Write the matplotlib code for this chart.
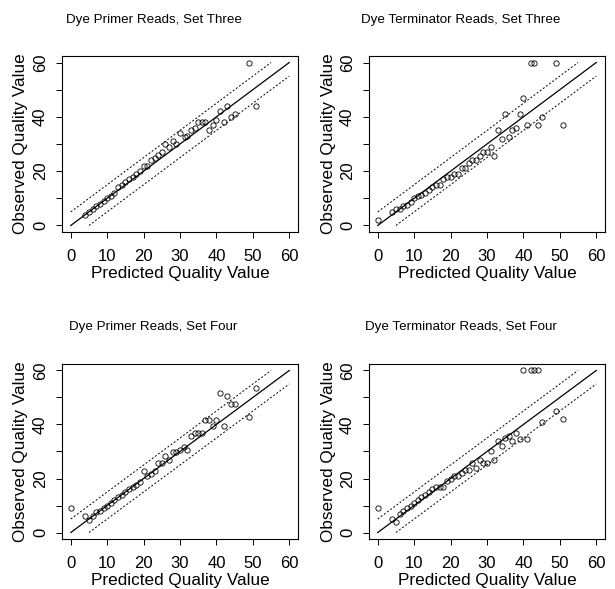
import numpy as np
import matplotlib.pyplot as plt

plt.rcParams['font.family'] = ['Liberation Sans', 'DejaVu Sans']

titles = ["Dye Primer Reads, Set Three", "Dye Terminator Reads, Set Three",
          "Dye Primer Reads, Set Four", "Dye Terminator Reads, Set Four"]

p3_x = [4, 5, 6, 7, 8, 9, 10, 11, 12, 13, 14, 15, 16, 17, 18, 19, 20, 21, 22, 23,
        24, 25, 26, 27, 28, 29, 30, 31.5, 32, 33, 34, 35, 36, 37, 38, 39, 40, 41,
        42, 43, 44, 45, 49, 51]
p3_y = [4, 5, 6, 7, 8, 9, 10, 11, 12, 14, 15, 16, 17, 18, 19, 20, 22, 22, 24, 25,
        26, 27, 30, 29, 31, 30, 34, 32.5, 33, 35, 36, 38, 38, 38, 35, 37, 39, 42,
        38, 44, 40, 41, 60, 44]

t3_x = [0, 4, 5, 6, 7, 8, 9, 10, 11, 12, 13, 14, 15, 16, 17, 18, 19, 20, 21, 22,
        23, 24, 25, 26, 27, 28, 29, 30, 31, 32, 33, 34, 35, 36, 37, 38, 39, 40,
        41, 42, 43, 44, 45, 49, 51]
t3_y = [2, 5, 6, 6, 7, 7.6, 8.7, 10, 11, 11.3, 12, 13, 14, 15, 15, 17, 18, 18, 19,
        19, 21, 21, 23, 24, 24, 25.7, 27, 27, 29, 25.7, 35, 32, 41, 32.6, 35, 36,
        41, 47, 37, 60, 60, 37, 40, 60, 37]

p4_x = [0, 4, 5, 6, 7, 8, 9, 10, 11, 12, 13, 14, 15, 16, 17, 18, 19, 20, 21, 22,
        23, 24, 25, 26, 27, 28, 29, 30, 31, 32, 33, 34, 35, 36, 37, 38, 39, 40,
        41, 42, 43, 44, 45, 49, 51]
p4_y = [9, 6, 4.6, 6.2, 7.7, 8.1, 9, 10, 11, 12, 13, 14, 15, 16, 17, 17.7, 18.7,
        22.7, 20.8, 21.8, 22.7, 25.7, 25.7, 28.5, 27, 29.7, 29.7, 30.7, 31.5,
        30.7, 35.6, 36.7, 36.7, 36.7, 41.7, 41.7, 39.5, 41.7, 51.7, 39.5, 50.5,
        47.7, 47.7, 42.8, 53.5]

t4_x = [0, 4, 5, 6, 7, 8, 9, 10, 11, 12, 13, 14, 15, 16, 17, 18, 19, 20, 21, 22,
        23, 24, 25, 26, 27, 28, 29, 30, 31, 32, 33, 34, 35, 36, 37, 38, 39, 40,
        41, 42, 43, 44, 45, 49, 51]
t4_y = [9, 5, 4, 7, 8, 9, 10, 11, 12, 13, 14, 15, 16, 17, 17, 17, 19, 20, 21, 21,
        22, 23, 23, 25.6, 24, 27, 25.6, 25.6, 30, 27, 34, 32, 35, 35.6, 34, 37,
        34.5, 60, 34.5, 60, 60, 60, 41, 45, 42]

series = [(p3_x, p3_y), (t3_x, t3_y), (p4_x, p4_y), (t4_x, t4_y)]

band = 5          # half width of the dotted bounds
qmax = 60
ticks = [0, 10, 20, 30, 40, 50, 60]
ticklabels_y = ["0", "", "20", "", "40", "", "60"]

W, H = 615, 589
fig = plt.figure(figsize=(W / 100, H / 100), dpi=100)

# panel boxes in pixels: left, top, right, bottom
boxes = [(62, 56, 298, 232), (369, 56, 605, 232),
         (62, 364, 298, 539), (369, 364, 605, 539)]
title_pos = [(153.5, 20), (461, 20), (153.5, 327), (461, 327)]

for i, (x, y) in enumerate(series):
    l, t, r, b = boxes[i]
    ax = fig.add_axes([l / W, 1 - b / H, (r - l) / W, (b - t) / H])
    ax.plot([0, qmax], [0, qmax], 'k-', lw=0.9)
    ax.plot([0, qmax - band], [band, qmax], color='k', lw=0.7, ls=(0, (2, 2)))
    ax.plot([band, qmax], [0, qmax - band], color='k', lw=0.7, ls=(0, (2, 2)))
    ax.plot(x, y, 'o', mfc='none', mec='k', ms=3.8, mew=0.6)
    ax.set_xlim(-2.4, 62.4)
    ax.set_ylim(-2.4, 62.4)
    ax.set_xticks(ticks)
    ax.set_yticks(ticks)
    ax.set_yticklabels(ticklabels_y, rotation=90, va='center')
    ax.tick_params(direction='out', length=4, width=0.7, labelsize=12)
    ax.tick_params(axis='x', pad=8)
    ax.tick_params(axis='y', pad=6)
    for s in ax.spines.values():
        s.set_linewidth(0.8)
    ax.set_xlabel("Predicted Quality Value", fontsize=12.3)
    ax.set_ylabel("Observed Quality Value", fontsize=12.3)
    ax.xaxis.set_label_coords(0.5, -42 / (b - t))
    ax.xaxis.label.set_va('center')
    ax.yaxis.set_label_coords(-41 / (r - l), 0.5)
    ax.yaxis.label.set_va('center')
    tx, ty = title_pos[i]
    fig.text(tx / W, 1 - ty / H, titles[i], ha='center', va='center', fontsize=9.6)

fig.savefig('out.png', dpi=100)
